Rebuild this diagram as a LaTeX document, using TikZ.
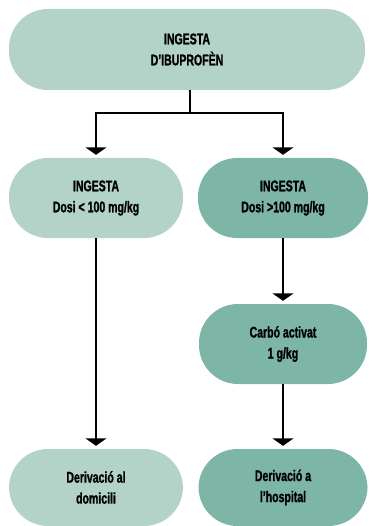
\documentclass[tikz,border=0pt]{standalone}
\usepackage{fontspec}
\setmainfont{Liberation Sans}[FakeStretch=0.68, BoldFeatures={FakeBold=1.2}]
\usetikzlibrary{arrows.meta}
\definecolor{mintlight}{RGB}{179,211,200}
\definecolor{mintdark}{RGB}{125,181,166}
\begin{document}
\begin{tikzpicture}[x=1pt,y=-1pt,
  pill/.style={rectangle, rounded corners=39pt, inner sep=0pt, align=center,
    font=\fontsize{15.5}{21}\selectfont\bfseries, text=black},
  lightpill/.style={pill, fill=mintlight},
  darkpill/.style={pill, fill=mintdark},
  flow/.style={line width=2.6pt, draw=black,
    -{Triangle[width=21pt,length=7.5pt]}, shorten >=3pt},
  link/.style={line width=2.6pt, draw=black}]
  \useasboundingbox (0,0) rectangle (368,526);

  \node[lightpill, minimum width=356pt, minimum height=81pt] (top) at (187,49.5)
    {INGESTA\\D’IBUPROFÈN};
  \node[lightpill, minimum width=174pt, minimum height=80pt] (lowdose) at (96,198)
    {INGESTA\\Dosi < 100 mg/kg};
  \node[darkpill, minimum width=170pt, minimum height=80pt] (highdose) at (283,198)
    {INGESTA\\Dosi >100 mg/kg};
  \node[darkpill, minimum width=168pt, minimum height=80pt] (charcoal) at (283,344)
    {Carbó activat\\1 g/kg};
  \node[lightpill, minimum width=174pt, minimum height=77pt] (home) at (96,487.5)
    {Derivació al\\domicili};
  \node[darkpill, minimum width=169pt, minimum height=77pt] (hospital) at (283,487.5)
    {Derivació a\\l’hospital};

  \coordinate (split) at (190,113);
  \draw[link] (split |- top.south) -- (split);
  \draw[flow] (split) -| (lowdose.north);
  \draw[flow] (split) -| (highdose.north);
  \draw[flow] (highdose.south) -- (charcoal.north);
  \draw[flow] (charcoal.south) -- (hospital.north);
  \draw[flow] (lowdose.south) -- (home.north);
\end{tikzpicture}
\end{document}
